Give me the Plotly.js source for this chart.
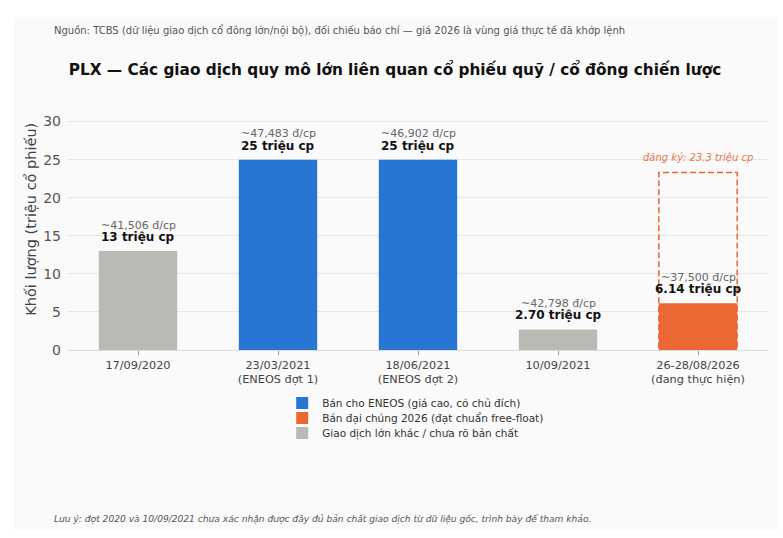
<!DOCTYPE html>
<html>
<head>
<meta charset="utf-8">
<script src="https://cdn.plot.ly/plotly-3.0.1.min.js"></script>
<style>
    body { margin: 0; background: #ffffff; }
    #chart { position: absolute; left: 13px; top: 17px; width: 764px; height: 513px; }
</style>
</head>
<body>
<div id="chart"></div>
<script>
// Khối lượng giao dịch lớn PLX (triệu cp)
const categories = [
    "17/09/2020",
    "23/03/2021<br>(ENEOS đợt 1)",
    "18/06/2021<br>(ENEOS đợt 2)",
    "10/09/2021",
    "26-28/08/2026<br>(đang thực hiện)",
]
const volumes = [13, 25, 25, 2.70, 6.14]
const volumeLabels = ["13", "25", "25", "2.70", "6.14"]
const prices = ["41,506", "47,483", "46,902", "42,798", "37,500"]
const groups = ["other", "eneos", "eneos", "other", "public"]

// đợt 2026: khối lượng đăng ký
const registeredIndex = 4
const registeredVolume = 23.3

const groupNames = {
    eneos: "Bán cho ENEOS (giá cao, có chủ đích)",
    public: "Bán đại chúng 2026 (đạt chuẩn free-float)",
    other: "Giao dịch lớn khác / chưa rõ bản chất",
}
const groupColors = { eneos: "#2776d4", public: "#eb6834", other: "#bab9b4" }
const groupOrder = ["eneos", "public", "other"]

const barWidth = 0.56
const font = "DejaVu Sans, sans-serif"

// mỗi nhóm một legend riêng để khoảng cách dòng sát như bản gốc
const legendIds = ["legend", "legend2", "legend3"]
const legendRowsY = [-0.2275, -0.2918, -0.3562]

const traces = groupOrder.map((g, k) => {
    const idx = groups.map((v, i) => (v === g ? i : -1)).filter((i) => i >= 0)
    return {
        type: "bar",
        x: idx.map((i) => categories[i]),
        y: idx.map((i) => volumes[i]),
        name: groupNames[g],
        marker: { color: groupColors[g] },
        width: barWidth,
        legend: legendIds[k],
        hoverinfo: "skip",
    }
})

const annotations = []
categories.forEach((c, i) => {
    annotations.push({
        x: c, y: volumes[i], xref: "x", yref: "y",
        text: `<b>${volumeLabels[i]} triệu cp</b>`,
        showarrow: false, yanchor: "middle", yshift: 14,
        font: { family: font, size: 12, color: "#111111" },
    })
    annotations.push({
        x: c, y: volumes[i], xref: "x", yref: "y",
        text: `~${prices[i]} đ/cp`,
        showarrow: false, yanchor: "middle", yshift: 26,
        font: { family: font, size: 11, color: "#666666" },
    })
})

annotations.push({
    x: categories[registeredIndex], y: registeredVolume, xref: "x", yref: "y",
    text: `<i>đăng ký: ${registeredVolume} triệu cp</i>`,
    showarrow: false, yanchor: "middle", yshift: 15,
    font: { family: font, size: 10, color: "#e8764a" },
})

// tiêu đề trục y (đặt bằng annotation để khớp vị trí)
annotations.push({
    x: -0.054, y: 0.56, xref: "paper", yref: "paper",
    xanchor: "center", yanchor: "middle", showarrow: false, textangle: -90,
    text: "Khối lượng (triệu cổ phiếu)",
    font: { family: font, size: 14.5, color: "#444444" },
})

annotations.push({
    x: -0.023, y: 1.373, xref: "paper", yref: "paper",
    xanchor: "left", yanchor: "middle", showarrow: false,
    text: "Nguồn: TCBS (dữ liệu giao dịch cổ đông lớn/nội bộ), đối chiếu báo chí — giá 2026 là vùng giá thực tế đã khớp lệnh",
    font: { family: font, size: 10, color: "#555555" },
})

annotations.push({
    x: -0.023, y: -0.725, xref: "paper", yref: "paper",
    xanchor: "left", yanchor: "middle", showarrow: false,
    text: "<i>Lưu ý: đợt 2020 và 10/09/2021 chưa xác nhận được đầy đủ bản chất giao dịch từ dữ liệu gốc, trình bày để tham khảo.</i>",
    font: { family: font, size: 9.1, color: "#555555" },
})

const layout = {
    width: 764,
    height: 513,
    paper_bgcolor: "#fafafa",
    plot_bgcolor: "#fafafa",
    font: { family: font, color: "#444444" },
    title: {
        text: "<b>PLX — Các giao dịch quy mô lớn liên quan cổ phiếu quỹ / cổ đông chiến lược</b>",
        x: 0.5, xref: "container", y: 1 - 53 / 513, yref: "container", yanchor: "middle",
        font: { family: font, size: 15.3, color: "#111111" },
    },
    margin: { l: 55, r: 9, t: 100, b: 180 },
    barmode: "overlay",
    showlegend: true,
    xaxis: {
        type: "category",
        categoryorder: "array",
        categoryarray: categories,
        range: [-0.5, categories.length - 0.5],
        showgrid: false,
        showline: true,
        linecolor: "#dddddd",
        ticks: "outside",
        ticklen: 4,
        tickcolor: "#999999",
        tickfont: { family: font, size: 11.3, color: "#444444" },
        zeroline: false,
    },
    yaxis: {
        range: [0, 30.6],
        tickvals: [0, 5, 10, 15, 20, 25, 30],
        gridcolor: "#e8e8e8",
        zeroline: false,
        showline: false,
        ticklabelstandoff: 6,
        tickfont: { family: font, size: 14, color: "#555555" },
    },
    shapes: [{
        type: "rect", xref: "x", yref: "y",
        x0: registeredIndex - barWidth / 2, x1: registeredIndex + barWidth / 2,
        y0: 0, y1: registeredVolume,
        line: { color: "#eb6834", width: 1.5, dash: "6px,3px" },
        fillcolor: "rgba(0,0,0,0)",
        layer: "above",
    }],
    annotations: annotations,
}

legendIds.forEach((id, k) => {
    layout[id] = {
        x: 0.306, xanchor: "left", y: legendRowsY[k], yanchor: "middle",
        orientation: "v",
        font: { family: font, size: 10.5, color: "#333333" },
        bgcolor: "rgba(0,0,0,0)",
    }
})

Plotly.newPlot("chart", traces, layout, { displayModeBar: false, staticPlot: true })
</script>
</body>
</html>
